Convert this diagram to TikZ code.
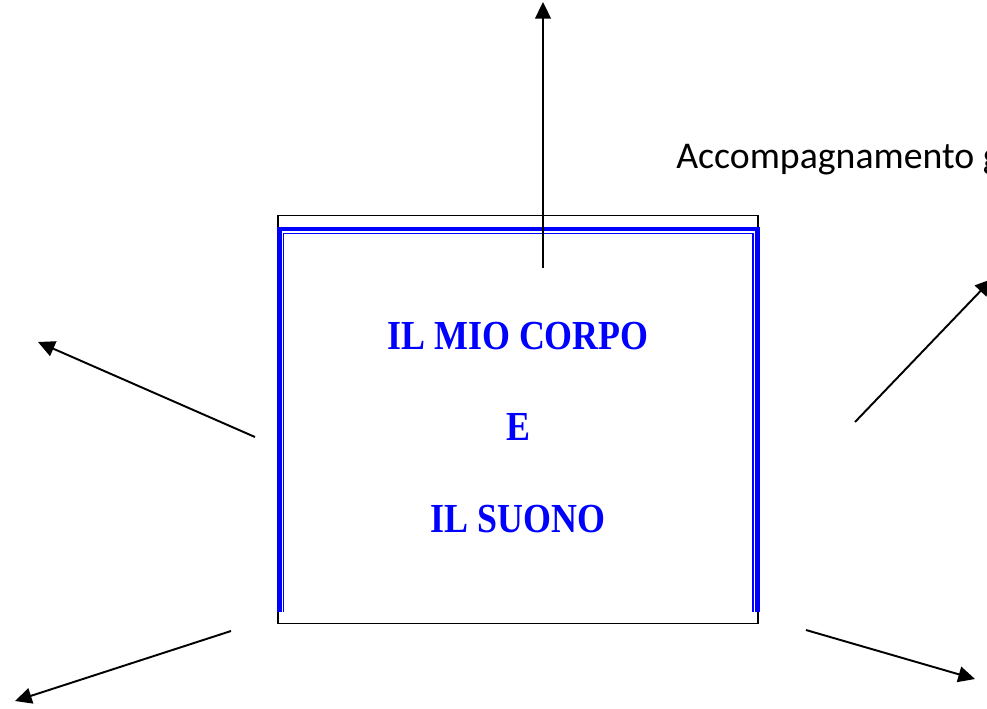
\documentclass[tikz,border=0pt]{standalone}
\usepackage{fontspec}
\setmainfont{Liberation Serif}
\newfontfamily\carlito{Carlito}
\usepackage{tikz}
\usetikzlibrary{arrows.meta}
\definecolor{bordoblu}{RGB}{0,0,255}
\tikzset{
	freccia/.style={line width=1.1pt, -{Triangle[length=9.5pt,width=9pt]}},
	titolo/.style={anchor=base, text=bordoblu, font=\bfseries\fontsize{23.5}{28}\selectfont, inner sep=0pt},
	didascalia/.style={anchor=base west, font=\carlito\fontsize{21.5}{26}\selectfont, inner sep=0pt}
}

\begin{document}
\begin{tikzpicture}[x=0.02cm, y=-0.02cm]
			\useasboundingbox (0,0) rectangle (987,708);
			\clip (0,0) rectangle (987,708);
			
			% riquadro
			\draw [line width=1.1pt] (278,215.5) rectangle (758,623.5);
			\draw [bordoblu, line width=2.8pt] (279.5,612) -- (279.5,229) -- (757.5,229) -- (757.5,612);
			\draw [bordoblu, line width=0.9pt] (283.3,612) -- (283.3,233.5) -- (752.7,233.5) -- (752.7,612);
			
			\node[titolo] (riga1) at (518,349) {\scalebox{0.87}[1]{IL MIO CORPO}};
			\node[titolo] (riga2) at (518,440) {\scalebox{0.87}[1]{E}};
			\node[titolo] (riga3) at (518,532) {\scalebox{0.87}[1]{IL SUONO}};
			
			\node[didascalia] (accomp) at (676,168) {Accompagnamento g};
			
			% frecce
			\coordinate (su0) at (543,268);
			\coordinate (su1) at (543,2);
			\coordinate (ds0) at (855,422);
			\coordinate (ds1) at (992,279);
			\coordinate (sn0) at (255,437);
			\coordinate (sn1) at (38,342);
			\coordinate (bs0) at (231,631);
			\coordinate (bs1) at (15,701);
			\coordinate (bd0) at (806,630);
			\coordinate (bd1) at (975,679);
			
			\draw [freccia] (su0) -- (su1);
			\draw [freccia] (ds0) -- (ds1);
			\draw [freccia] (sn0) -- (sn1);
			\draw [freccia] (bs0) -- (bs1);
			\draw [freccia] (bd0) -- (bd1);
		\end{tikzpicture}
\end{document}
